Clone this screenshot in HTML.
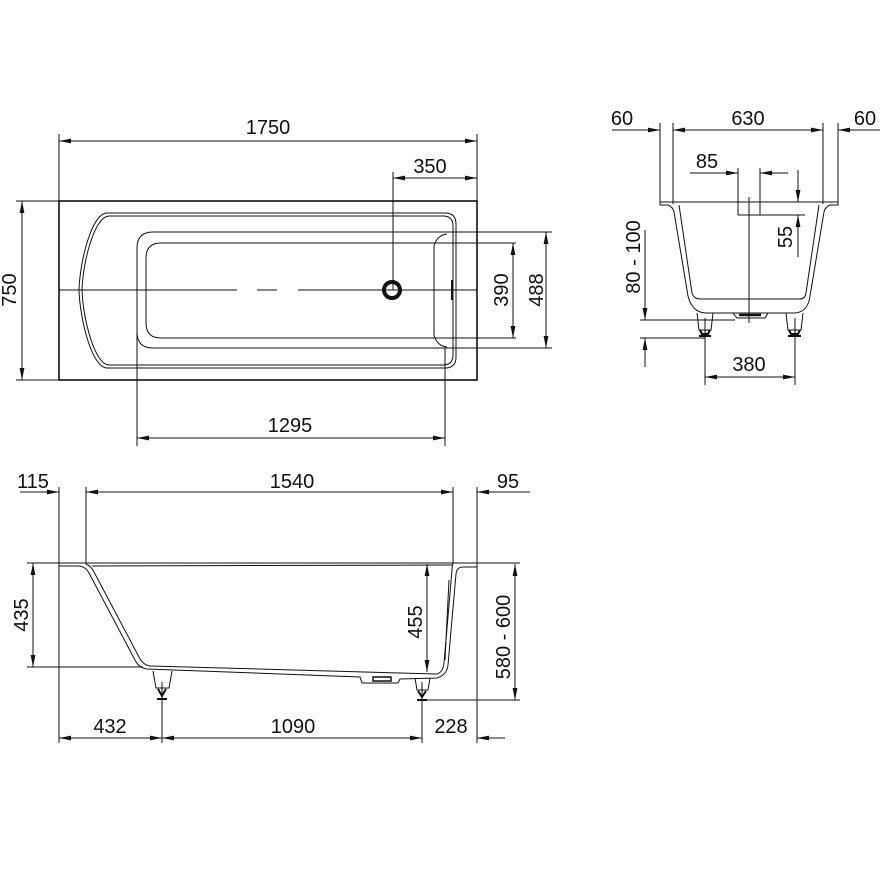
<!DOCTYPE html>
<html><head><meta charset="utf-8"><style>
html,body{margin:0;padding:0;background:#fff}
svg{display:block}
text{font-family:"Liberation Sans",Arial,sans-serif;font-size:20px;fill:#111}
</style></head><body>
<svg width="886" height="886" viewBox="0 0 886 886" xmlns="http://www.w3.org/2000/svg">
<defs>
<marker id="a" viewBox="0 0 12 6" refX="12" refY="3" markerWidth="12" markerHeight="6" markerUnits="userSpaceOnUse" orient="auto-start-reverse">
<path d="M0,0.6 L12,3 L0,5.4 Z" fill="#111"/>
</marker>
</defs>
<g stroke="#111" stroke-width="1" fill="none">
<rect x="59" y="201" width="418" height="179" stroke-width="1.6"/>
<line x1="59" y1="134" x2="59" y2="201"/>
<line x1="477" y1="134" x2="477" y2="201"/>
<line x1="59" y1="141" x2="477" y2="141" marker-start="url(#a)" marker-end="url(#a)"/>
<line x1="393" y1="178" x2="477" y2="178" marker-start="url(#a)" marker-end="url(#a)"/>
<line x1="393" y1="172" x2="393" y2="290"/>
<line x1="16" y1="201" x2="59" y2="201"/>
<line x1="16" y1="380" x2="59" y2="380"/>
<line x1="22" y1="201" x2="22" y2="380" marker-start="url(#a)" marker-end="url(#a)"/>
<path d="M107,213 L445,213 Q456,213 456,224 L456,357 Q456,368 445,368 L107,368 C92,368 80,320 79,290 C80,260 92,213 107,213 Z"/>
<path d="M109,216 L443,216 Q453,216 453,226 L453,355 Q453,365 443,365 L109,365 C95,365 83,320 82,290 C83,260 95,216 109,216 Z"/>
<path d="M552,232 L153,232 Q137,232 137,248 L137,332 Q137,348 153,348 L552,348"/>
<path d="M516,243 L161,243 Q146,243 146,258 L146,323 Q146,338 161,338 L516,338"/>
<path d="M447,234 Q437,235 434,246 L434,335 Q437,346 447,347"/>
<path d="M436,243 L446,243 M436,338 L446,338"/>
<line x1="452" y1="280" x2="452" y2="300" stroke-width="2"/>
<line x1="59" y1="290" x2="237" y2="290"/>
<line x1="257" y1="290" x2="277" y2="290"/>
<line x1="298" y1="290" x2="477" y2="290"/>
<circle cx="392" cy="290" r="8" stroke-width="4"/>
<line x1="513" y1="243" x2="513" y2="338" marker-start="url(#a)" marker-end="url(#a)"/>
<line x1="546" y1="232" x2="546" y2="348" marker-start="url(#a)" marker-end="url(#a)"/>
<line x1="137" y1="300" x2="137" y2="446"/>
<line x1="445" y1="348" x2="445" y2="446"/>
<line x1="137" y1="438" x2="445" y2="438" marker-start="url(#a)" marker-end="url(#a)"/>

<line x1="660" y1="123" x2="660" y2="202"/>
<line x1="673" y1="123" x2="673" y2="204"/>
<line x1="823" y1="123" x2="823" y2="204"/>
<line x1="838" y1="123" x2="838" y2="202"/>
<line x1="612" y1="130" x2="660" y2="130" marker-end="url(#a)"/>
<line x1="673" y1="130" x2="823" y2="130" marker-start="url(#a)" marker-end="url(#a)"/>
<line x1="880" y1="130" x2="838" y2="130" marker-end="url(#a)"/>
<line x1="660" y1="202" x2="838" y2="202"/>
<path d="M660,202 L660,205 L668,205 Q673,207 674,212 L688,296 Q692,312 705,313 L795,313 Q808,312 810,296 L824,212 Q825,207 830,205 L838,205 L838,202"/>
<path d="M679,205 L692,293 Q694,299 700,299 L800,299 Q805,299 806,293 L819,205"/>
<path d="M733,313 L737,318 L765,318 L768,313"/>
<line x1="739" y1="315" x2="761" y2="315" stroke-width="2.5"/>
<path d="M697,313 L699,330 L711,330 L713,313"/>
<path d="M700,330 L702,334 L708,334 L710,330 M699,336 L711,336" stroke-width="2"/>
<path d="M786,313 L788,330 L801,330 L803,313"/>
<path d="M789,330 L791,334 L798,334 L800,330 M788,336 L801,336" stroke-width="2"/>
<line x1="705" y1="318" x2="705" y2="385"/>
<line x1="795" y1="318" x2="795" y2="385"/>
<line x1="705" y1="377" x2="795" y2="377" marker-start="url(#a)" marker-end="url(#a)"/>
<line x1="690" y1="173" x2="738" y2="173" marker-end="url(#a)"/>
<line x1="788" y1="173" x2="760" y2="173" marker-end="url(#a)"/>
<line x1="738" y1="168" x2="738" y2="215"/>
<line x1="760" y1="168" x2="760" y2="215"/>
<line x1="738" y1="215" x2="760" y2="215"/>
<line x1="749" y1="197" x2="749" y2="323"/>
<line x1="798" y1="170" x2="798" y2="202" marker-end="url(#a)"/>
<line x1="798" y1="257" x2="798" y2="215" marker-end="url(#a)"/>
<line x1="760" y1="215" x2="805" y2="215"/>
<line x1="645" y1="230" x2="645" y2="320" marker-end="url(#a)"/>
<line x1="645" y1="367" x2="645" y2="338" marker-end="url(#a)"/>
<line x1="640" y1="320" x2="735" y2="320"/>
<line x1="640" y1="338" x2="705" y2="338"/>

<line x1="59" y1="487" x2="59" y2="743"/>
<line x1="86" y1="487" x2="86" y2="564"/>
<line x1="453" y1="487" x2="453" y2="564"/>
<line x1="477" y1="487" x2="477" y2="743"/>
<line x1="20" y1="492" x2="59" y2="492" marker-end="url(#a)"/>
<line x1="86" y1="492" x2="453" y2="492" marker-start="url(#a)" marker-end="url(#a)"/>
<line x1="530" y1="492" x2="477" y2="492" marker-end="url(#a)"/>
<line x1="27" y1="563" x2="520" y2="563"/>
<line x1="27" y1="667" x2="143" y2="667"/>
<line x1="33" y1="563" x2="33" y2="667" marker-start="url(#a)" marker-end="url(#a)"/>
<path d="M59,566 L78,566 Q85,566 89,573 L135,660 Q139,668 147,669 L360,677 L362,683 L398,683 L400,679 L437,678 Q447,675 448,665 L456,574 Q457,567 463,567 L477,567"/>
<path d="M86,564 Q91,566 94,572 L139,657 Q143,665 150,666 L437,674 Q443,672 444,663 L452,570 Q452,566 453,564"/>
<path d="M92,566 L453,565"/>
<path d="M449,580 L445,660" />
<rect x="373" y="677" width="18" height="4" stroke-width="1.5"/>
<path d="M153,671 L156,688 L169,688 L172,671"/>
<path d="M158,689 L162,696 L166,689 M157,699 L167,699" stroke-width="2"/>
<path d="M415,678 L417,690 L428,690 L430,678"/>
<path d="M418,691 L422,697 L426,691 M417,700 L427,700" stroke-width="2"/>
<line x1="162" y1="682" x2="162" y2="743"/>
<line x1="422" y1="682" x2="422" y2="743"/>
<line x1="59" y1="738" x2="162" y2="738" marker-start="url(#a)" marker-end="url(#a)"/>
<line x1="162" y1="738" x2="422" y2="738" marker-start="url(#a)" marker-end="url(#a)"/>
<line x1="505" y1="738" x2="477" y2="738" marker-end="url(#a)"/>
<line x1="427" y1="564" x2="427" y2="672" marker-start="url(#a)" marker-end="url(#a)"/>
<line x1="420" y1="700" x2="520" y2="700"/>
<line x1="515" y1="564" x2="515" y2="700" marker-start="url(#a)" marker-end="url(#a)"/>
</g>
<g>
<text x="268" y="134" text-anchor="middle">1750</text>
<text x="430" y="173" text-anchor="middle">350</text>
<text transform="translate(16,290) rotate(-90)" text-anchor="middle">750</text>
<text transform="translate(508,290) rotate(-90)" text-anchor="middle">390</text>
<text transform="translate(543,290) rotate(-90)" text-anchor="middle">488</text>
<text x="290" y="432" text-anchor="middle">1295</text>

<text x="622" y="125" text-anchor="middle">60</text>
<text x="748" y="125" text-anchor="middle">630</text>
<text x="865" y="125" text-anchor="middle">60</text>
<text x="707" y="168" text-anchor="middle">85</text>
<text transform="translate(792,237) rotate(-90)" text-anchor="middle">55</text>
<text transform="translate(640,257) rotate(-90)" text-anchor="middle">80 - 100</text>
<text x="749" y="371" text-anchor="middle">380</text>

<text x="33" y="488" text-anchor="middle">115</text>
<text x="292" y="488" text-anchor="middle">1540</text>
<text x="508" y="488" text-anchor="middle">95</text>
<text transform="translate(28,615) rotate(-90)" text-anchor="middle">435</text>
<text transform="translate(422,622) rotate(-90)" text-anchor="middle">455</text>
<text transform="translate(510,637) rotate(-90)" text-anchor="middle">580 - 600</text>
<text x="110" y="733" text-anchor="middle">432</text>
<text x="293" y="733" text-anchor="middle">1090</text>
<text x="451" y="733" text-anchor="middle">228</text>
</g>
</svg>
</body></html>
